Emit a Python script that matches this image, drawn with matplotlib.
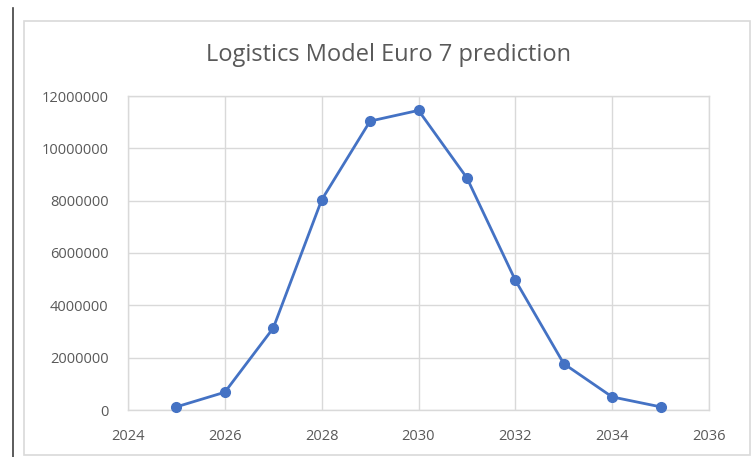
import matplotlib
matplotlib.use("Agg")
import matplotlib.pyplot as plt
from matplotlib.patches import Rectangle
from matplotlib.lines import Line2D

plt.rcParams["font.family"] = ["Open Sans", "DejaVu Sans"]

# data
years = [2025, 2026, 2027, 2028, 2029, 2030, 2031, 2032, 2033, 2034, 2035]
vehicles = [120000, 680000, 3130000, 8030000, 11040000, 11450000,
            8870000, 4960000, 1770000, 500000, 120000]
x_ticks = [2024, 2026, 2028, 2030, 2032, 2034, 2036]
y_ticks = [0, 2000000, 4000000, 6000000, 8000000, 10000000, 12000000]

W, H = 753, 457
fig = plt.figure(figsize=(W / 100, H / 100), dpi=100)

# page margin line and chart border
fig.add_artist(Line2D([12.5 / W, 12.5 / W], [0, 1 - 8 / H], color="#404040", lw=1.2))
fig.add_artist(Rectangle((24 / W, 2 / H), 726 / W, (455 - 21) / H,
                         fill=False, edgecolor="#D9D9D9", lw=1.2))

left, right, top, bottom = 128, 709, 96, 410
ax = fig.add_axes([left / W, 1 - bottom / H, (right - left) / W, (bottom - top) / H])

ax.plot(years, vehicles, color="#4472C4", lw=2.0, marker="o", ms=7,
        zorder=3, clip_on=False)

ax.set_xlim(2024, 2036)
ax.set_ylim(0, 12000000)
ax.set_xticks(x_ticks)
ax.set_yticks(y_ticks)
ax.set_xticklabels([str(t) for t in x_ticks])
ax.set_yticklabels([str(t) for t in y_ticks])
ax.grid(True, color="#D9D9D9", lw=1.0)
ax.set_axisbelow(True)
for s in ax.spines.values():
    s.set_color("#D9D9D9")
    s.set_linewidth(1.0)
ax.tick_params(length=0, colors="#595959", labelsize=10.5)
ax.tick_params(axis="y", pad=14)
ax.tick_params(axis="x", pad=14)

fig.text((200 + 577) / 2 / W, 1 - 55 / H, "Logistics Model Euro 7 prediction",
         ha="center", va="center", fontsize=17, color="#595959")

fig.savefig("out.png", dpi=100, facecolor="white")
